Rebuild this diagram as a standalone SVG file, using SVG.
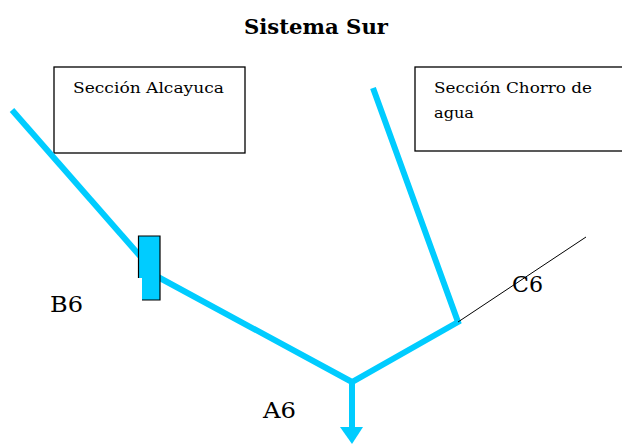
<svg xmlns="http://www.w3.org/2000/svg" width="622" height="444" viewBox="0 0 622 444">
<style>
.box{fill:#fff;stroke:#000;stroke-width:1.3}
.pipe{stroke:#00CCFF;stroke-width:6;fill:none;stroke-linejoin:miter}
.t{font-family:"DejaVu Serif","Liberation Serif",serif;fill:#000}
</style>
<rect width="622" height="444" fill="#fff"/>
<text class="t" x="316" y="34" font-size="20" font-weight="bold" text-anchor="middle" textLength="144" lengthAdjust="spacingAndGlyphs">Sistema Sur</text>
<g id="seccion-alcayuca">
<rect class="box" x="54" y="67" width="191" height="86"/>
<text class="t" x="73" y="93" font-size="15" textLength="151" lengthAdjust="spacingAndGlyphs">Sección Alcayuca</text>
</g>
<g id="seccion-chorro">
<rect class="box" x="415" y="67" width="210" height="84"/>
<text class="t" x="434" y="93" font-size="15" textLength="158" lengthAdjust="spacingAndGlyphs">Sección Chorro de</text>
<text class="t" x="434" y="118" font-size="15" textLength="40" lengthAdjust="spacingAndGlyphs">agua</text>
</g>
<g id="connectors">
<polyline class="pipe" points="12,110 140,256"/>
<polyline class="pipe" points="158,277 352,382 458,322 373,88"/>
<line x1="458" y1="322" x2="586" y2="237" stroke="#000" stroke-width="1"/>
<line class="pipe" x1="352" y1="382" x2="352" y2="430"/>
<polygon points="340,427 363,427 352,444" fill="#00CCFF"/>
</g>
<g id="valvula">
<polygon points="138.5,236 160,236 160,300 142,300 142,278 138.5,278" fill="#00CCFF"/>
<path d="M138.5,278 V236 H160 V300 H142" fill="none" stroke="#000" stroke-width="1.2"/>
</g>
<g id="B6"><text class="t" x="50" y="312" font-size="23" textLength="33" lengthAdjust="spacingAndGlyphs">B6</text></g>
<g id="C6"><text class="t" x="512" y="292" font-size="23" textLength="31" lengthAdjust="spacingAndGlyphs">C6</text></g>
<g id="A6"><text class="t" x="263" y="418" font-size="23" textLength="33" lengthAdjust="spacingAndGlyphs">A6</text></g>
</svg>
